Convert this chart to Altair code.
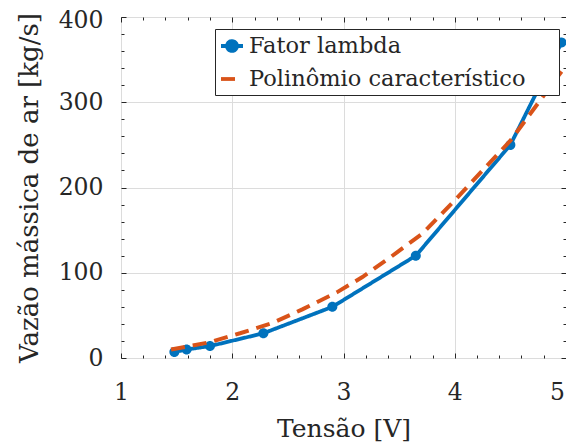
import altair as alt
import pandas as pd

# ---- data ----
serie_nomes = ["Fator lambda", "Polinômio característico"]
cores = ["#0072BD", "#D95319"]

tensao_lambda = [1.48, 1.59, 1.80, 2.28, 2.90, 3.65, 4.50, 4.96]
vazao_lambda = [7, 10, 14, 29, 60, 120, 250, 370]

tensao_poli = [1.45, 1.78, 2.07, 2.36, 2.63, 2.94, 3.17, 3.43, 3.71, 4.00, 4.25, 4.50, 4.96]
vazao_poli = [10, 18, 29, 41, 57, 77, 95, 119, 146, 185, 220, 255, 336]

x_ticks = [1, 2, 3, 4, 5]
y_ticks = [0, 100, 200, 300, 400]
x_minor = [1.2, 1.4, 1.6, 1.8, 2.2, 2.4, 2.6, 2.8, 3.2, 3.4, 3.6, 3.8,
           4.2, 4.4, 4.6, 4.8]
y_minor = [20, 40, 60, 80, 120, 140, 160, 180, 220, 240, 260, 280,
           320, 340, 360, 380]

df_l = pd.DataFrame({"x": tensao_lambda, "y": vazao_lambda, "serie": serie_nomes[0]})
df_p = pd.DataFrame({"x": tensao_poli, "y": vazao_poli, "serie": serie_nomes[1]})

FONT = "DejaVu Serif"
TXT = "#262626"
W, H = 445, 341

xs = alt.Scale(domain=[1, 5], nice=False, zero=False)
ys = alt.Scale(domain=[0, 400], nice=False, zero=False)

blue_sym = "M-1,0L1,0M0.45,0A0.45,0.45,0,1,1,-0.45,0A0.45,0.45,0,1,1,0.45,0Z"
line_sym = "M-1,0L1,0"

color_scale = alt.Scale(domain=serie_nomes, range=cores)
dash_scale = alt.Scale(domain=serie_nomes, range=[[1, 0], [14, 8]])
shape_scale = alt.Scale(domain=serie_nomes, range=[blue_sym, line_sym])

legend = alt.Legend(
    title=None, orient="none", legendX=94, legendY=12,
    fillColor="white", strokeColor=TXT, padding=4, rowPadding=7,
    labelFont=FONT, labelFontSize=22.5, labelColor=TXT, labelOffset=4,
    labelLimit=600, symbolSize=484, symbolStrokeWidth=3.8,
    labelExpr="datum.label + '\u00a0\u00a0\u00a0\u00a0\u200b'",
)


def tick_axis(orient, values, size):
    return alt.Axis(orient=orient, values=values, labels=False, grid=False,
                    domain=False, ticks=True, tickSize=size, offset=-size,
                    tickColor=TXT, tickWidth=1, title=None)


x_main = alt.Axis(orient="bottom", values=x_ticks, format="d", labelFont=FONT,
                  labelFontSize=23.5, labelColor=TXT, labelPadding=22, labelFlush=False,
                  labelOffset=alt.condition("datum.value == 5", alt.value(-9), alt.value(0)),
                  ticks=False, tickSize=0, domain=False, grid=True,
                  gridColor="#dcdcdc", gridWidth=1, title="Tensão [V]",
                  titleFont=FONT, titleFontSize=25, titleFontWeight="normal",
                  titleColor=TXT, titleY=78, titleBaseline="alphabetic")
y_main = alt.Axis(orient="left", values=y_ticks, format="d", labelFont=FONT,
                  labelFontSize=23.5, labelColor=TXT, labelPadding=18, labelFlush=False,
                  labelOffset=alt.condition("datum.value == 400", alt.value(3), alt.value(0)),
                  ticks=False, tickSize=0, domain=False, grid=True,
                  gridColor="#dcdcdc", gridWidth=1,
                  title="Vazão mássica de ar [kg/s]", titleFont=FONT,
                  titleFontSize=26, titleFontWeight="normal", titleColor=TXT,
                  titleX=-84, titleY=H / 2, titleAngle=270, titleAlign="center",
                  titleBaseline="alphabetic")

blue_line = alt.Chart(df_l).mark_line(strokeWidth=3.8).encode(
    x=alt.X("x:Q", scale=xs, axis=x_main),
    y=alt.Y("y:Q", scale=ys, axis=y_main),
    color=alt.Color("serie:N", scale=color_scale, legend=legend),
    strokeDash=alt.StrokeDash("serie:N", scale=dash_scale, legend=legend),
)

blue_pts = alt.Chart(df_l).mark_point(filled=True, size=494, opacity=1).encode(
    x=alt.X("x:Q", scale=xs, axis=tick_axis("top", x_ticks, 5)),
    y=alt.Y("y:Q", scale=ys, axis=tick_axis("right", y_ticks, 5)),
    color=alt.Color("serie:N", scale=color_scale, legend=legend),
    shape=alt.Shape("serie:N", scale=shape_scale, legend=legend),
)

orange_line = alt.Chart(df_p).mark_line(strokeWidth=4).encode(
    x=alt.X("x:Q", scale=xs, axis=tick_axis("bottom", x_ticks, 5)),
    y=alt.Y("y:Q", scale=ys, axis=tick_axis("left", y_ticks, 5)),
    color=alt.Color("serie:N", scale=color_scale, legend=legend),
    strokeDash=alt.StrokeDash("serie:N", scale=dash_scale, legend=legend),
)

minor1 = alt.Chart(df_l).mark_point(opacity=0).encode(
    x=alt.X("x:Q", scale=xs, axis=tick_axis("bottom", x_minor, 3)),
    y=alt.Y("y:Q", scale=ys, axis=tick_axis("left", y_minor, 3)),
)
minor2 = alt.Chart(df_l).mark_point(opacity=0).encode(
    x=alt.X("x:Q", scale=xs, axis=tick_axis("top", x_minor, 3)),
    y=alt.Y("y:Q", scale=ys, axis=tick_axis("right", y_minor, 3)),
)

chart = alt.layer(minor1, minor2, blue_line, blue_pts, orange_line).resolve_axis(
    x="independent", y="independent"
).properties(
    width=W, height=H,
    autosize=alt.AutoSizeParams(type="none"),
    padding={"left": 113, "top": 9, "right": 0, "bottom": 85},
    background="white",
).configure_view(stroke=TXT, strokeWidth=1)

chart.save("out.html", embed_options={"renderer": "svg", "actions": False})
